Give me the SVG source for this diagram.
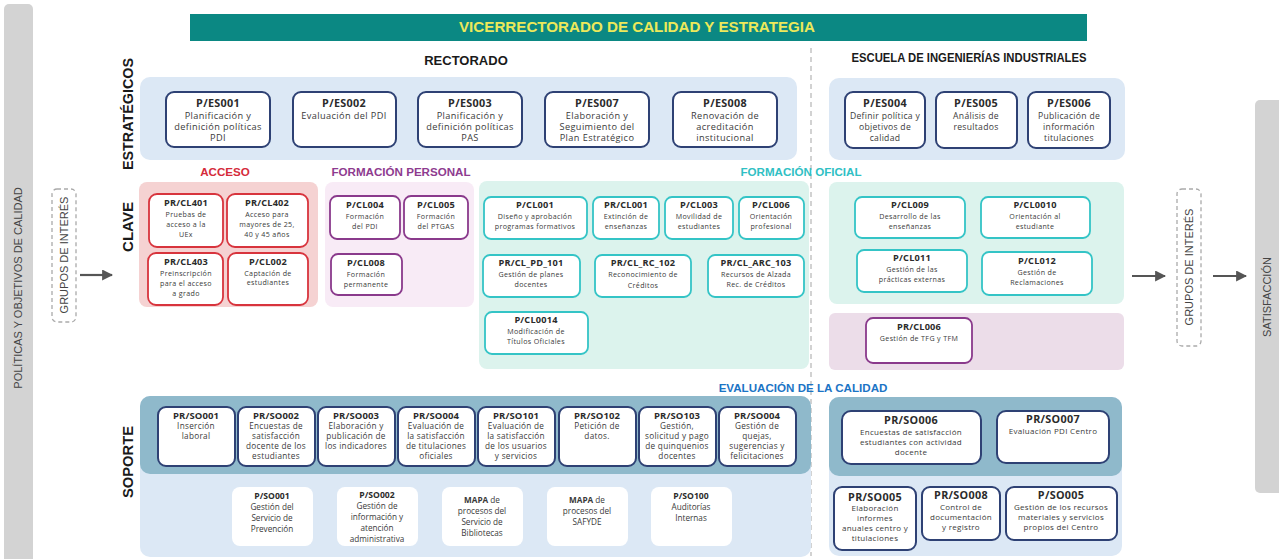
<svg xmlns="http://www.w3.org/2000/svg" width="1279" height="559" viewBox="0 0 1279 559">
<style>
text{font-family:"Open Sans","Liberation Sans",sans-serif;text-anchor:middle;fill:#3a3a3a}
.hd{font-family:"Liberation Sans",Arial,sans-serif;font-weight:bold;fill:#1a1a1a}
.side{font-family:"Liberation Sans",Arial,sans-serif;font-size:11px;fill:#444}
.cat{font-family:"Liberation Sans",Arial,sans-serif;font-weight:bold;font-size:11.6px}
.k1{font-size:10.8px;font-weight:bold;fill:#2b2b2b;letter-spacing:0.3px}
.t1{font-size:9.2px;letter-spacing:0.4px}
.k2{font-size:9.2px;font-weight:bold;fill:#2b2b2b;letter-spacing:0.2px}
.t2{font-size:7.1px;letter-spacing:0.35px}
.k3{font-size:9.5px;font-weight:bold;fill:#2b2b2b;letter-spacing:0.1px}
.t3{font-size:8.2px;letter-spacing:0.3px}
.t5{font-size:8px;letter-spacing:0.3px}
.t6{font-size:8.6px;letter-spacing:0.3px}
.k4{font-size:8.6px;font-weight:bold;fill:#2b2b2b}
.t4{font-size:8.2px}
.bs{fill:#fff;stroke:#2e4174;stroke-width:2}
.br{fill:#fff;stroke:#d8343d;stroke-width:1.8}
.bp{fill:#fff;stroke:#8a3a8c;stroke-width:1.8}
.bt{fill:#fff;stroke:#34c4c6;stroke-width:1.8}
.bw{fill:#fff}
.dash{fill:none;stroke:#aaa;stroke-width:1.3;stroke-dasharray:4 3}
.arr{stroke:#555;stroke-width:2.2;fill:none}
</style>
<defs>
<marker id="ah" viewBox="0 0 10 10" refX="9" refY="5" markerWidth="5" markerHeight="5" orient="auto" markerUnits="strokeWidth">
<path d="M0,0 L10,5 L0,10 z" fill="#555"/>
</marker>
</defs>
<rect width="1279" height="559" fill="#fff"/>

<!-- side bars -->
<g id="politicas">
<rect x="4" y="4" width="29" height="570" rx="5" fill="#d3d3d3"/>
<text class="side" transform="translate(22,288) rotate(-90)">POLÍTICAS Y OBJETIVOS DE CALIDAD</text>
</g>
<g id="grupos-izq">
<rect class="dash" x="52" y="189" width="24" height="133" rx="5"/>
<text class="side" transform="translate(68,255) rotate(-90)">GRUPOS DE INTERÉS</text>
</g>
<g id="grupos-der">
<rect class="dash" x="1177" y="189" width="24" height="157" rx="5"/>
<text class="side" transform="translate(1193,267) rotate(-90)">GRUPOS DE INTERÉS</text>
</g>
<g id="satisfaccion">
<rect x="1255" y="100" width="30" height="393" rx="5" fill="#d3d3d3"/>
<text class="side" transform="translate(1271,297) rotate(-90)">SATISFACCIÓN</text>
</g>

<!-- row labels -->
<g id="labels">
<text class="hd" font-size="15" textLength="112" lengthAdjust="spacingAndGlyphs" transform="translate(133,114) rotate(-90)">ESTRATÉGICOS</text>
<text class="hd" font-size="15" textLength="50" lengthAdjust="spacingAndGlyphs" transform="translate(133,227) rotate(-90)">CLAVE</text>
<text class="hd" font-size="15" textLength="72" lengthAdjust="spacingAndGlyphs" transform="translate(133,462) rotate(-90)">SOPORTE</text>
</g>

<!-- banner -->
<g id="banner">
<rect x="190" y="14" width="897" height="27" fill="#0b8883"/>
<text class="hd" x="637" y="32" font-size="14.5" textLength="356" lengthAdjust="spacingAndGlyphs" style="fill:#ede85a">VICERRECTORADO DE CALIDAD Y ESTRATEGIA</text>
</g>
<text class="hd" x="466" y="65" font-size="13">RECTORADO</text>
<text class="hd" x="969" y="62" font-size="13" textLength="235" lengthAdjust="spacingAndGlyphs">ESCUELA DE INGENIERÍAS INDUSTRIALES</text>

<line x1="811" y1="48" x2="811" y2="556" stroke="#b5b5b5" stroke-width="1.2" stroke-dasharray="5 4"/>

<!-- panels -->
<g id="panels">
<rect x="140" y="77" width="657" height="83" rx="10" fill="#dce8f5"/>
<rect x="829" y="78" width="296" height="82" rx="10" fill="#dce8f5"/>
<rect x="139" y="182" width="179" height="125" rx="8" fill="#f5d2d2"/>
<rect x="325" y="182" width="149" height="125" rx="8" fill="#f8ebf6"/>
<rect x="479" y="181" width="330" height="188" rx="8" fill="#dcf3ed"/>
<rect x="829" y="182" width="295" height="122" rx="8" fill="#dcf3ed"/>
<rect x="829" y="313" width="295" height="57" rx="6" fill="#ecdde9"/>
<rect x="140" y="396" width="671" height="161" rx="10" fill="#dce8f5"/>
<rect x="140" y="396" width="671" height="78" rx="10" fill="#8fb9cb"/>
<rect x="829" y="397" width="293" height="159" rx="10" fill="#dce8f5"/>
<rect x="829" y="397" width="293" height="79" rx="10" fill="#8fb9cb"/>
</g>

<g id="cats">
<text class="cat" x="225" y="176" style="fill:#d52b3b">ACCESO</text>
<text class="cat" x="401" y="176" style="fill:#8e3b8f">FORMACIÓN PERSONAL</text>
<text class="cat" x="801" y="176" style="fill:#2fc0c4">FORMACIÓN OFICIAL</text>
<text class="cat" x="803" y="392" style="fill:#1b74c5">EVALUACIÓN DE LA CALIDAD</text>
</g>

<!-- connectors -->
<g id="connectors">
<line class="arr" x1="80" y1="275" x2="112" y2="275" marker-end="url(#ah)"/>
<line class="arr" x1="1132" y1="276" x2="1165" y2="276" marker-end="url(#ah)"/>
<line class="arr" x1="1213" y1="276" x2="1246" y2="276" marker-end="url(#ah)"/>
</g>

<!-- strategic -->
<g id="P-ES001"><rect class="bs" x="166" y="92" width="104" height="55" rx="8"/>
<text class="k1" x="218" y="107">P/ES001</text><text class="t1" x="218" y="119">Planificación y</text><text class="t1" x="218" y="130">definición políticas</text><text class="t1" x="218" y="141">PDI</text></g>
<g id="P-ES002"><rect class="bs" x="293" y="92" width="103" height="55" rx="8"/>
<text class="k1" x="344" y="107">P/ES002</text><text class="t1" x="344" y="119">Evaluación del PDI</text></g>
<g id="P-ES003"><rect class="bs" x="418" y="92" width="104" height="55" rx="8"/>
<text class="k1" x="470" y="107">P/ES003</text><text class="t1" x="470" y="119">Planificación y</text><text class="t1" x="470" y="130">definición políticas</text><text class="t1" x="470" y="141">PAS</text></g>
<g id="P-ES007"><rect class="bs" x="545" y="92" width="104" height="55" rx="8"/>
<text class="k1" x="597" y="107">P/ES007</text><text class="t1" x="597" y="119">Elaboración y</text><text class="t1" x="597" y="130">Seguimiento del</text><text class="t1" x="597" y="141">Plan Estratégico</text></g>
<g id="P-ES008"><rect class="bs" x="673" y="92" width="104" height="55" rx="8"/>
<text class="k1" x="725" y="107">P/ES008</text><text class="t1" x="725" y="119">Renovación de</text><text class="t1" x="725" y="130">acreditación</text><text class="t1" x="725" y="141">institucional</text></g>
<g id="P-ES004"><rect class="bs" x="845" y="92" width="80" height="56" rx="8"/>
<text class="k1" x="885" y="107">P/ES004</text><text class="t6" x="885" y="119">Definir política y</text><text class="t6" x="885" y="130">objetivos de</text><text class="t6" x="885" y="141">calidad</text></g>
<g id="P-ES005"><rect class="bs" x="936" y="92" width="81" height="56" rx="8"/>
<text class="k1" x="976" y="107">P/ES005</text><text class="t6" x="976" y="119">Análisis de</text><text class="t6" x="976" y="130">resultados</text></g>
<g id="P-ES006"><rect class="bs" x="1028" y="92" width="82" height="56" rx="8"/>
<text class="k1" x="1069" y="107">P/ES006</text><text class="t6" x="1069" y="119">Publicación de</text><text class="t6" x="1069" y="130">información</text><text class="t6" x="1069" y="141">titulaciones</text></g>

<!-- acceso -->
<g id="PR-CL401"><rect class="br" x="149" y="194" width="74" height="53" rx="8"/>
<text class="k2" x="186" y="206">PR/CL401</text><text class="t2" x="186" y="217">Pruebas de</text><text class="t2" x="186" y="227">acceso a la</text><text class="t2" x="186" y="237">UEx</text></g>
<g id="PR-CL402"><rect class="br" x="227" y="194" width="81" height="53" rx="8"/>
<text class="k2" x="267" y="206">PR/CL402</text><text class="t2" x="267" y="217">Acceso para</text><text class="t2" x="267" y="227">mayores de 25,</text><text class="t2" x="267" y="237">40 y 45 años</text></g>
<g id="PR-CL403"><rect class="br" x="148" y="253" width="75" height="52" rx="8"/>
<text class="k2" x="186" y="265">PR/CL403</text><text class="t2" x="186" y="276">Preinscripción</text><text class="t2" x="186" y="286">para el acceso</text><text class="t2" x="186" y="296">a grado</text></g>
<g id="P-CL002"><rect class="br" x="228" y="253" width="80" height="52" rx="8"/>
<text class="k2" x="268" y="265">P/CL002</text><text class="t2" x="268" y="276">Captación de</text><text class="t2" x="268" y="285">estudiantes</text></g>

<!-- formacion personal -->
<g id="P-CL004"><rect class="bp" x="330" y="196" width="70" height="43" rx="7"/>
<text class="k2" x="365" y="208">P/CL004</text><text class="t2" x="365" y="219">Formación</text><text class="t2" x="365" y="229">del PDI</text></g>
<g id="P-CL005"><rect class="bp" x="404" y="196" width="64" height="43" rx="7"/>
<text class="k2" x="436" y="208">P/CL005</text><text class="t2" x="436" y="219">Formación</text><text class="t2" x="436" y="229">del PTGAS</text></g>
<g id="P-CL008"><rect class="bp" x="331" y="254" width="71" height="41" rx="7"/>
<text class="k2" x="366" y="266">P/CL008</text><text class="t2" x="366" y="277">Formación</text><text class="t2" x="366" y="287">permanente</text></g>

<!-- formacion oficial -->
<g id="P-CL001"><rect class="bt" x="484" y="197" width="103" height="42" rx="7"/>
<text class="k2" x="535" y="208">P/CL001</text><text class="t2" x="535" y="219">Diseño y aprobación</text><text class="t2" x="535" y="229">programas formativos</text></g>
<g id="PR-CL001"><rect class="bt" x="593" y="197" width="66" height="42" rx="7"/>
<text class="k2" x="626" y="208">PR/CL001</text><text class="t2" x="626" y="219">Extinción de</text><text class="t2" x="626" y="229">enseñanzas</text></g>
<g id="P-CL003"><rect class="bt" x="665" y="197" width="68" height="42" rx="7"/>
<text class="k2" x="699" y="208">P/CL003</text><text class="t2" x="699" y="219">Movilidad de</text><text class="t2" x="699" y="229">estudiantes</text></g>
<g id="P-CL006"><rect class="bt" x="739" y="197" width="65" height="42" rx="7"/>
<text class="k2" x="771" y="208">P/CL006</text><text class="t2" x="771" y="219">Orientación</text><text class="t2" x="771" y="229">profesional</text></g>
<g id="PR-CL_PD_101"><rect class="bt" x="483" y="255" width="97" height="42" rx="7"/>
<text class="k2" x="531" y="266">PR/CL_PD_101</text><text class="t2" x="531" y="277">Gestión de planes</text><text class="t2" x="531" y="287">docentes</text></g>
<g id="PR-CL_RC_102"><rect class="bt" x="595" y="255" width="96" height="42" rx="7"/>
<text class="k2" x="643" y="266">PR/CL_RC_102</text><text class="t2" x="643" y="277">Reconocimiento de</text><text class="t2" x="643" y="288">Créditos</text></g>
<g id="PR-CL_ARC_103"><rect class="bt" x="708" y="255" width="96" height="42" rx="7"/>
<text class="k2" x="756" y="266">PR/CL_ARC_103</text><text class="t2" x="756" y="277">Recursos de Alzada</text><text class="t2" x="756" y="287">Rec. de Créditos</text></g>
<g id="P-CL0014"><rect class="bt" x="485" y="312" width="103" height="42" rx="7"/>
<text class="k2" x="536" y="323">P/CL0014</text><text class="t2" x="536" y="334">Modificación de</text><text class="t2" x="536" y="344">Títulos Oficiales</text></g>

<!-- escuela clave -->
<g id="P-CL009"><rect class="bt" x="855" y="197" width="110" height="41" rx="7"/>
<text class="k2" x="910" y="208">P/CL009</text><text class="t2" x="910" y="219">Desarrollo de las</text><text class="t2" x="910" y="229">enseñanzas</text></g>
<g id="P-CL0010"><rect class="bt" x="981" y="197" width="109" height="41" rx="7"/>
<text class="k2" x="1035" y="208">P/CL0010</text><text class="t2" x="1035" y="219">Orientación al</text><text class="t2" x="1035" y="229">estudiante</text></g>
<g id="P-CL011"><rect class="bt" x="857" y="250" width="110" height="42" rx="7"/>
<text class="k2" x="912" y="261">P/CL011</text><text class="t2" x="912" y="272">Gestión de las</text><text class="t2" x="912" y="282">prácticas externas</text></g>
<g id="P-CL012"><rect class="bt" x="982" y="252" width="110" height="43" rx="7"/>
<text class="k2" x="1037" y="264">P/CL012</text><text class="t2" x="1037" y="275">Gestión de</text><text class="t2" x="1037" y="285">Reclamaciones</text></g>
<g id="PR-CL006"><rect class="bp" x="866" y="318" width="106" height="45" rx="7"/>
<text class="k2" x="919" y="330">PR/CL006</text><text class="t2" x="919" y="341">Gestión de TFG y TFM</text></g>

<!-- soporte top -->
<g id="PR-SO001"><rect class="bs" x="158" y="407" width="77" height="59" rx="8"/>
<text class="k3" x="196" y="419">PR/SO001</text><text class="t3" x="196" y="429">Inserción</text><text class="t3" x="196" y="439">laboral</text></g>
<g id="PR-SO002"><rect class="bs" x="238" y="407" width="77" height="59" rx="8"/>
<text class="k3" x="276" y="419">PR/SO002</text><text class="t3" x="276" y="429">Encuestas de</text><text class="t3" x="276" y="439">satisfacción</text><text class="t3" x="276" y="449">docente de los</text><text class="t3" x="276" y="459">estudiantes</text></g>
<g id="PR-SO003"><rect class="bs" x="318" y="407" width="77" height="59" rx="8"/>
<text class="k3" x="356" y="419">PR/SO003</text><text class="t3" x="356" y="429">Elaboración y</text><text class="t3" x="356" y="439">publicación de</text><text class="t3" x="356" y="449">los indicadores</text></g>
<g id="PR-SO004a"><rect class="bs" x="398" y="407" width="77" height="59" rx="8"/>
<text class="k3" x="436" y="419">PR/SO004</text><text class="t3" x="436" y="429">Evaluación de</text><text class="t3" x="436" y="439">la satisfacción</text><text class="t3" x="436" y="449">de titulaciones</text><text class="t3" x="436" y="459">oficiales</text></g>
<g id="PR-SO101"><rect class="bs" x="478" y="407" width="77" height="59" rx="8"/>
<text class="k3" x="516" y="419">PR/SO101</text><text class="t3" x="516" y="429">Evaluación de</text><text class="t3" x="516" y="439">la satisfacción</text><text class="t3" x="516" y="449">de los usuarios</text><text class="t3" x="516" y="459">y servicios</text></g>
<g id="PR-SO102"><rect class="bs" x="559" y="407" width="77" height="59" rx="8"/>
<text class="k3" x="597" y="419">PR/SO102</text><text class="t3" x="597" y="429">Petición de</text><text class="t3" x="597" y="439">datos.</text></g>
<g id="PR-SO103"><rect class="bs" x="639" y="407" width="77" height="59" rx="8"/>
<text class="k3" x="677" y="419">PR/SO103</text><text class="t3" x="677" y="429">Gestión,</text><text class="t3" x="677" y="439">solicitud y pago</text><text class="t3" x="677" y="449">de quinquenios</text><text class="t3" x="677" y="459">docentes</text></g>
<g id="PR-SO004b"><rect class="bs" x="719" y="407" width="77" height="59" rx="8"/>
<text class="k3" x="757" y="419">PR/SO004</text><text class="t3" x="757" y="429">Gestión de</text><text class="t3" x="757" y="439">quejas,</text><text class="t3" x="757" y="449">sugerencias y</text><text class="t3" x="757" y="459">felicitaciones</text></g>

<!-- soporte bottom -->
<g id="P-SO001"><rect class="bw" x="232" y="487" width="81" height="59" rx="8"/>
<text class="k4" x="272" y="499">P/SO001</text><text class="t4" x="272" y="510">Gestión del</text><text class="t4" x="272" y="521">Servicio de</text><text class="t4" x="272" y="532">Prevención</text></g>
<g id="P-SO002"><rect class="bw" x="337" y="487" width="81" height="59" rx="8"/>
<text class="k4" x="377" y="498">P/SO002</text><text class="t4" x="377" y="509">Gestión de</text><text class="t4" x="377" y="520">información y</text><text class="t4" x="377" y="531">atención</text><text class="t4" x="377" y="542">administrativa</text></g>
<g id="MAPA-Bibliotecas"><rect class="bw" x="442" y="487" width="81" height="59" rx="8"/>
<text class="t4" x="482" y="503"><tspan font-weight="bold">MAPA</tspan> de</text><text class="t4" x="482" y="514">procesos del</text><text class="t4" x="482" y="525">Servicio de</text><text class="t4" x="482" y="536">Bibliotecas</text></g>
<g id="MAPA-SAFYDE"><rect class="bw" x="547" y="487" width="81" height="59" rx="8"/>
<text class="t4" x="587" y="503"><tspan font-weight="bold">MAPA</tspan> de</text><text class="t4" x="587" y="514">procesos del</text><text class="t4" x="587" y="525">SAFYDE</text></g>
<g id="P-SO100"><rect class="bw" x="651" y="487" width="81" height="59" rx="8"/>
<text class="k4" x="691" y="499">P/SO100</text><text class="t4" x="691" y="510">Auditorías</text><text class="t4" x="691" y="521">Internas</text></g>

<!-- escuela soporte -->
<g id="PR-SO006"><rect class="bs" x="842" y="411" width="139" height="53" rx="9"/>
<text class="k1" x="911" y="424">PR/SO006</text><text class="t5" x="911" y="435">Encuestas de satisfacción</text><text class="t5" x="911" y="445">estudiantes con actividad</text><text class="t5" x="911" y="455">docente</text></g>
<g id="PR-SO007"><rect class="bs" x="997" y="411" width="112" height="52" rx="9"/>
<text class="k1" x="1053" y="423">PR/SO007</text><text class="t5" x="1053" y="434">Evaluación PDI Centro</text></g>
<g id="PR-SO005"><rect class="bs" x="834" y="487" width="82" height="63" rx="8"/>
<text class="k1" x="875" y="501">PR/SO005</text><text class="t5" x="875" y="511">Elaboración</text><text class="t5" x="875" y="521">informes</text><text class="t5" x="875" y="531">anuales centro y</text><text class="t5" x="875" y="541">titulaciones</text></g>
<g id="PR-SO008"><rect class="bs" x="922" y="487" width="78" height="53" rx="8"/>
<text class="k1" x="961" y="499">PR/SO008</text><text class="t5" x="961" y="510">Control de</text><text class="t5" x="961" y="520">documentación</text><text class="t5" x="961" y="530">y registro</text></g>
<g id="P-SO005"><rect class="bs" x="1006" y="487" width="111" height="53" rx="8"/>
<text class="k1" x="1061" y="499">P/SO005</text><text class="t5" x="1061" y="510">Gestión de los recursos</text><text class="t5" x="1061" y="520">materiales y servicios</text><text class="t5" x="1061" y="530">propios del Centro</text></g>
</svg>
